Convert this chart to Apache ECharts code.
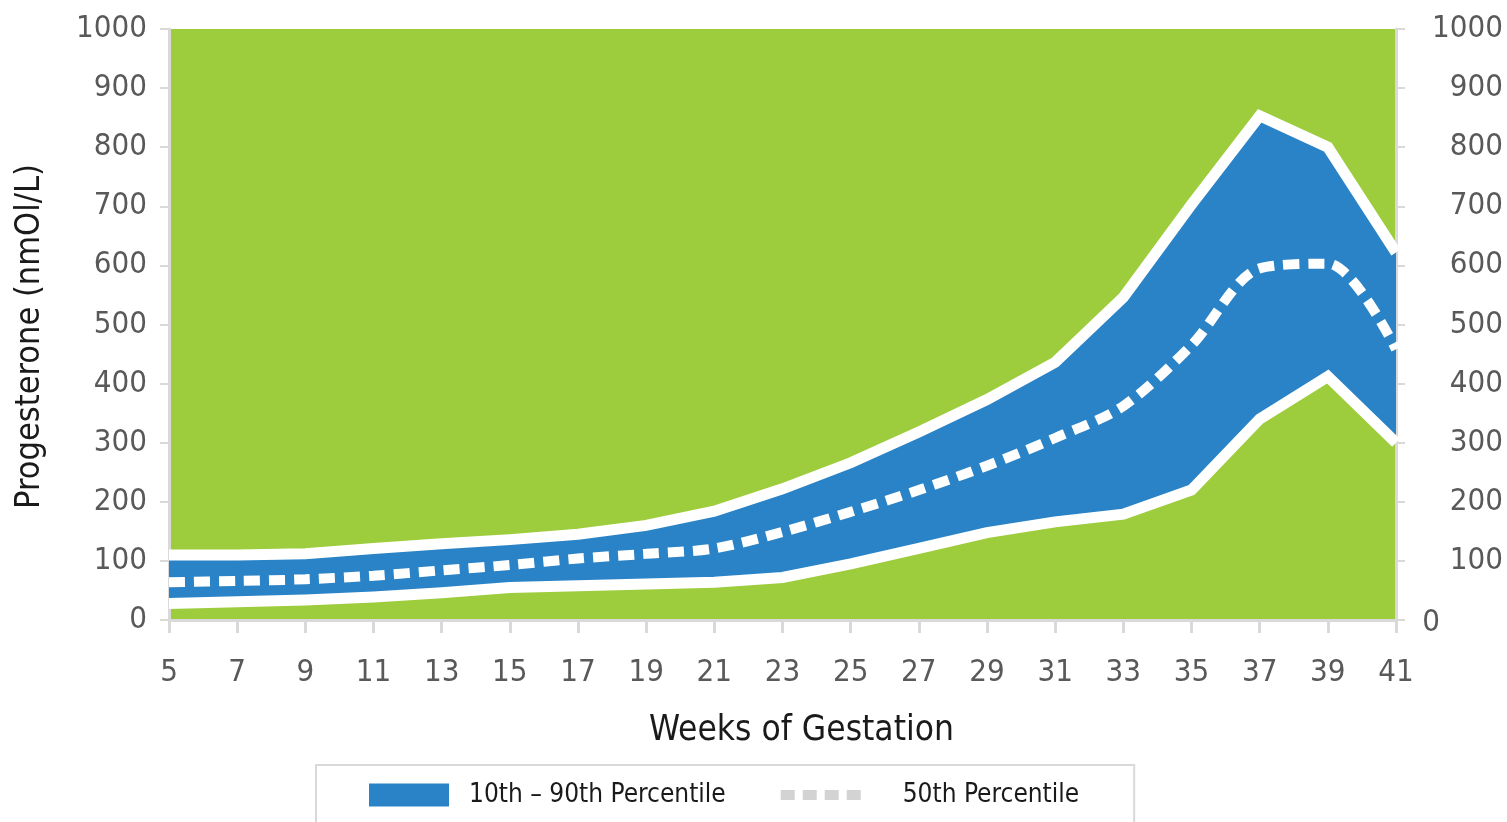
<!DOCTYPE html>
<html>
<head>
<meta charset="utf-8">
<title>Progesterone</title>
<script src="https://cdn.jsdelivr.net/npm/echarts@6/dist/echarts.min.js"></script>
<style>
  html, body { margin: 0; padding: 0; background: #fff; }
  #chart { width: 1507px; height: 822px; }
</style>
</head>
<body>
<div id="chart"></div>
<script>
// weeks of gestation (x axis categories)
var weeks = [5, 7, 9, 11, 13, 15, 17, 19, 21, 23, 25, 27, 29, 31, 33, 35, 37, 39, 41]
// percentiles, nmol/L
var p10 = [28, 31, 34, 39, 46, 55, 58, 61, 64, 72, 95, 121, 148, 166, 179, 220, 340, 412, 300]
var p50 = [64, 66, 69, 75, 84, 93, 104, 112, 121, 149, 183, 220, 261, 308, 362, 465, 595, 603, 458]
var p90 = [110, 110, 112, 121, 129, 136, 145, 160, 184, 222, 266, 318, 373, 436, 546, 703, 853, 800, 622]
var yTicks = [0, 100, 200, 300, 400, 500, 600, 700, 800, 900, 1000]

var font = "'DejaVu Sans Condensed', 'Liberation Sans Narrow', sans-serif"
var green = '#9dcd3c'
var blue = '#2a83c6'
var grey = '#d9d9d9'
var labelGrey = '#595959'

var bandWidth = p90.map(function (v, i) { return v - p10[i] })

var graph = echarts.init(document.getElementById('chart'))
var option = {
  animation: false,
  textStyle: { fontFamily: font },
  grid: {
    left: 169,
    right: 111,
    top: 29,
    bottom: 202,
    containLabel: false,
    outerBoundsMode: 'none',
    show: true,
    backgroundColor: green,
    borderWidth: 0
  },
  legend: {
    left: 316,
    top: 765,
    padding: [17, 55, 22, 53],
    borderColor: grey,
    borderWidth: 2,
    itemWidth: 80,
    itemHeight: 23,
    itemGap: 50,
    textStyle: { fontSize: 26, color: '#1a1a1a', fontFamily: font },
    data: [
      {
        name: '10th – 90th Percentile',
        icon: 'rect',
        itemStyle: { color: blue },
        textStyle: { padding: [0, 0, 0, 15] }
      },
      {
        name: '50th Percentile',
        lineStyle: { color: '#d3d3d3', width: 10, type: [14, 8] },
        itemStyle: { opacity: 0 },
        textStyle: { padding: [0, 0, 0, 37] }
      }
    ]
  },
  xAxis: {
    type: 'category',
    data: weeks,
    boundaryGap: false,
    name: 'Weeks of Gestation',
    nameLocation: 'middle',
    nameGap: 93,
    nameTextStyle: { fontSize: 35, color: '#1a1a1a', fontFamily: font, padding: [0, 0, 0, 38] },
    axisLine: { lineStyle: { color: grey, width: 3 } },
    axisTick: { alignWithLabel: true, length: 13, lineStyle: { color: grey, width: 3 } },
    axisLabel: { interval: 0, margin: 37, fontSize: 31, color: labelGrey, fontFamily: font },
    splitLine: { show: false }
  },
  yAxis: [
    {
      type: 'value',
      min: yTicks[0],
      max: yTicks[yTicks.length - 1],
      interval: 100,
      name: 'Progesterone (nmOl/L)',
      nameLocation: 'middle',
      nameGap: 122,
      nameTextStyle: { fontSize: 34, color: '#1a1a1a', fontFamily: font, padding: [0, 24, 0, 0] },
      axisLine: { show: true, lineStyle: { color: grey, width: 3 } },
      axisTick: { show: true, length: 9, lineStyle: { color: grey, width: 2 } },
      axisLabel: {
        margin: 22,
        fontSize: 31,
        color: labelGrey,
        fontFamily: font,
        formatter: function (v) { return String(v) }
      },
      splitLine: { show: false }
    },
    {
      type: 'value',
      position: 'right',
      min: yTicks[0],
      max: yTicks[yTicks.length - 1],
      interval: 100,
      axisLine: { show: true, lineStyle: { color: grey, width: 3 } },
      axisTick: { show: true, length: 9, lineStyle: { color: grey, width: 2 } },
      axisLabel: {
        margin: 107,
        align: 'right',
        fontSize: 31,
        color: labelGrey,
        fontFamily: font,
        formatter: function (v) {
          return v === 0 ? '{z|0}' : String(v)
        },
        rich: {
          z: { fontSize: 31, color: labelGrey, fontFamily: font, padding: [6, 63, 0, 0] }
        }
      },
      splitLine: { show: false }
    }
  ],
  series: [
    {
      name: 'base',
      type: 'line',
      stack: 'band',
      data: p10,
      symbol: 'none',
      silent: true,
      lineStyle: { opacity: 0 },
      areaStyle: { opacity: 0 }
    },
    {
      name: '10th – 90th Percentile',
      type: 'line',
      stack: 'band',
      data: bandWidth,
      symbol: 'none',
      silent: true,
      itemStyle: { color: blue },
      lineStyle: { opacity: 0 },
      areaStyle: { color: blue, opacity: 1 }
    },
    {
      name: '90th',
      type: 'line',
      data: p90,
      symbol: 'none',
      silent: true,
      lineStyle: { color: '#fff', width: 11, join: 'miter' }
    },
    {
      name: '10th',
      type: 'line',
      data: p10,
      symbol: 'none',
      silent: true,
      lineStyle: { color: '#fff', width: 11, join: 'miter' }
    },
    {
      name: '50th Percentile',
      type: 'line',
      data: p50,
      symbol: 'none',
      smooth: 0.3,
      silent: true,
      itemStyle: { color: '#fff' },
      lineStyle: { color: '#fff', width: 10, type: [16, 9] }
    }
  ]
}
graph.setOption(option)
</script>
</body>
</html>
